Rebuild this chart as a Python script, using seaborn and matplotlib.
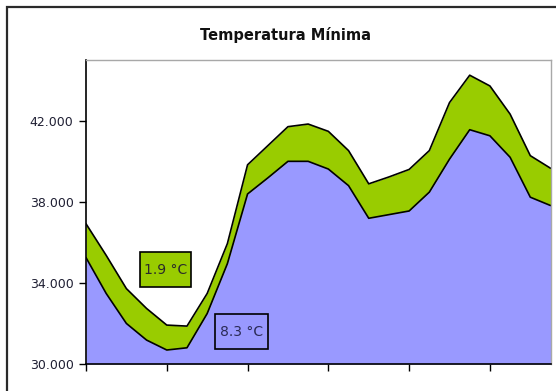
import matplotlib
matplotlib.use("Agg")
import matplotlib.pyplot as plt
from matplotlib.patches import Rectangle
import numpy as np
import pandas as pd
import seaborn as sns

# Hourly points (24 steps) of the two stacked series
horas = list(range(24))
serie_base = [35.25, 33.48, 32.00, 31.18, 30.69, 30.80, 32.49, 34.95,
              38.39, 39.18, 40.00, 40.00, 39.62, 38.80, 37.19, 37.37,
              37.55, 38.48, 40.11, 41.56, 41.26, 40.20, 38.23, 37.82]
serie_tope = [36.92, 35.36, 33.72, 32.74, 31.92, 31.87, 33.48, 35.94,
              39.83, 40.77, 41.71, 41.84, 41.48, 40.53, 38.89, 39.23,
              39.60, 40.53, 42.90, 44.25, 43.72, 42.33, 40.28, 39.66]
y_ticks = [30, 34, 38, 42]
y_tick_labels = ["30.000", "34.000", "38.000", "42.000"]
titulo = "Temperatura Mínima"
etiqueta_rango = "1.9 °C"
etiqueta_base = "8.3 °C"

COLOR_BASE = "#9999FF"
COLOR_TOPE = "#99CC00"

sns.set_theme(style="white")
plt.rcParams["font.family"] = ["DejaVu Sans"]

df = pd.DataFrame({"hora": horas, "base": serie_base, "tope": serie_tope})

W, H = 556, 391
fig = plt.figure(figsize=(W / 100, H / 100), dpi=100)
fig.patch.set_facecolor("white")


def px_rect(x0, y0, x1, y1, **kw):
    """Rectangle given in top-left pixel coordinates of the figure."""
    return Rectangle((x0 / W, 1 - y1 / H), (x1 - x0) / W, (y1 - y0) / H,
                     transform=fig.transFigure, **kw)


# Outer chart frame (runs past the right and bottom edges)
fig.patches.append(Rectangle((7 / W, -0.2), 1.2, (H - 7) / H + 0.2,
                             transform=fig.transFigure, fill=False,
                             edgecolor="#2a2a2a", linewidth=1.6, zorder=0))

left, right, top, bottom = 86, 550.5, 60, 364
ax = fig.add_axes([left / W, (H - bottom) / H, (right - left) / W, (bottom - top) / H])

y0 = 30
ax.fill_between(df["hora"], y0, df["base"], color=COLOR_BASE, linewidth=0, zorder=1)
ax.fill_between(df["hora"], df["base"], df["tope"], color=COLOR_TOPE, linewidth=0, zorder=1)
sns.lineplot(data=df, x="hora", y="base", ax=ax, color="black", linewidth=1.2, zorder=2)
sns.lineplot(data=df, x="hora", y="tope", ax=ax, color="black", linewidth=1.2, zorder=2)

ax.set_xlim(0, 23)
ax.set_ylim(30, 45)
ax.set_xticks([0, 4, 8, 12, 16, 20])
ax.set_xticklabels([])
ax.set_yticks(y_ticks)
ax.set_yticklabels(y_tick_labels)
ax.set_xlabel("")
ax.set_ylabel("")
ax.tick_params(axis="both", which="both", direction="out", length=5, width=1,
               color="black", left=True, bottom=True, labelsize=9,
               labelcolor="#1f1f33", pad=4)

for side in ["left", "bottom"]:
    ax.spines[side].set_color("black")
    ax.spines[side].set_linewidth(1.2)
for side in ["top", "right"]:
    ax.spines[side].set_color("#a8a8a8")
    ax.spines[side].set_linewidth(1.0)
for s in ax.spines.values():
    s.set_zorder(5)

fig.text(285 / W, 1 - 35 / H, titulo, ha="center", va="center",
         fontsize=10.5, fontweight="bold", color="#111111")

# Annotation boxes
fig.patches.append(px_rect(140, 252, 191, 287, facecolor=COLOR_TOPE,
                           edgecolor="black", linewidth=1.2, zorder=6))
fig.text(165.5 / W, 1 - 270 / H, etiqueta_rango, ha="center", va="center",
         fontsize=10, color="#2a2a2a", zorder=7)
fig.patches.append(px_rect(215, 314, 268, 349, facecolor=COLOR_BASE,
                           edgecolor="black", linewidth=1.2, zorder=6))
fig.text(241.5 / W, 1 - 331.5 / H, etiqueta_base, ha="center", va="center",
         fontsize=10, color="#2a2a55", zorder=7)

fig.savefig("out.png", dpi=100)
